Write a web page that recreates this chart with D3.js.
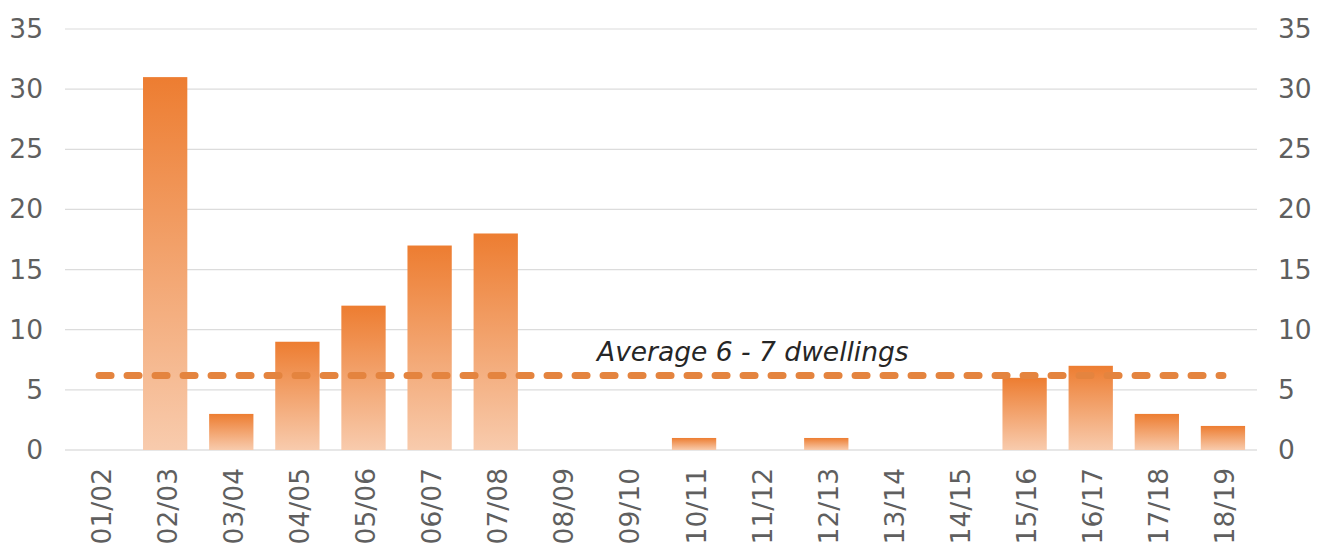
<!DOCTYPE html>
<html>
<head>
<meta charset="utf-8">
<script src="https://cdn.jsdelivr.net/npm/d3@7"></script>
<style>
  body { margin: 0; background: #fff; }
  svg { display: block; }
  text { font-family: "DejaVu Sans", Verdana, sans-serif; }
</style>
</head>
<body>
<div id="chart"></div>
<script>
// data
var years = ["01/02","02/03","03/04","04/05","05/06","06/07","07/08","08/09","09/10",
             "10/11","11/12","12/13","13/14","14/15","15/16","16/17","17/18","18/19"];
var dwellings = [0, 31, 3, 9, 12, 17, 18, 0, 0, 1, 0, 1, 0, 0, 6, 7, 3, 2];
var yTicks = [0, 5, 10, 15, 20, 25, 30, 35];
var average = 6.2;
var averageLabel = "Average 6 - 7 dwellings";

function renderChart(){
    var svgWidth = 1329, svgHeight = 547;
    var plotLeft = 65, plotRight = 1257, plotTop = 29, plotBottom = 450;
    var fontSize = "26.5px";

    var svg = d3.select("#chart").append("svg")
        .attr("width", svgWidth)
        .attr("height", svgHeight);

    // gradient for the bars, dark at the top and light at the bottom
    var grad = svg.append("defs").append("linearGradient")
        .attr("id", "barGrad")
        .attr("x1", 0).attr("y1", 0).attr("x2", 0).attr("y2", 1);
    grad.append("stop").attr("offset", "0%").attr("stop-color", "#ED7D31");
    grad.append("stop").attr("offset", "100%").attr("stop-color", "#F8CBAD");

    var x = d3.scaleBand()
        .domain(years)
        .range([plotLeft + 1, plotRight - 1])
        .paddingInner(0.33)
        .paddingOuter(0.165);

    var y = d3.scaleLinear()
        .domain([0, 35])
        .range([plotBottom, plotTop]);

    // gridlines
    svg.append("g")
        .selectAll("line")
        .data(yTicks)
        .enter()
        .append("line")
        .attr("x1", plotLeft)
        .attr("x2", plotRight)
        .attr("y1", d => y(d))
        .attr("y2", d => y(d))
        .attr("stroke", d => d == 0 ? "#D0D0D0" : "#DCDCDC")
        .attr("stroke-width", 1.2);

    // left and right axes (labels only)
    var leftAxis = d3.axisLeft(y).tickValues(yTicks).tickSize(0).tickPadding(0);
    var rightAxis = d3.axisRight(y).tickValues(yTicks).tickSize(0).tickPadding(0);

    var gl = svg.append("g").attr("transform", "translate(43,0)").call(leftAxis);
    var gr = svg.append("g").attr("transform", "translate(1278,0)").call(rightAxis);
    [gl, gr].forEach(function(g){
        g.select(".domain").remove();
        g.selectAll("text")
            .attr("fill", "#5f5f5f")
            .style("font-size", fontSize)
            .style("font-family", "'DejaVu Sans', Verdana, sans-serif");
    });

    // bars
    svg.append("g")
        .selectAll("rect")
        .data(dwellings)
        .enter()
        .append("rect")
        .attr("x", (d, i) => x(years[i]))
        .attr("width", x.bandwidth())
        .attr("y", d => y(d))
        .attr("height", d => plotBottom - y(d))
        .attr("fill", "url(#barGrad)");

    // x labels, rotated
    svg.append("g")
        .selectAll("text")
        .data(years)
        .enter()
        .append("text")
        .attr("transform", d => `translate(${x(d) + x.bandwidth()/2 + 2}, 468) rotate(-90)`)
        .attr("text-anchor", "end")
        .attr("dy", "0.36em")
        .attr("fill", "#5f5f5f")
        .style("font-size", fontSize)
        .text(d => d);

    // average dashed line
    var x0 = x(years[0]) + x.bandwidth()/2;
    var x1 = x(years[years.length-1]) + x.bandwidth()/2;
    svg.append("line")
        .attr("x1", x0)
        .attr("x2", x1)
        .attr("y1", y(average))
        .attr("y2", y(average))
        .attr("stroke", "#E4843F")
        .attr("stroke-width", 7)
        .attr("stroke-linecap", "round")
        .attr("stroke-dasharray", "12 16");

    svg.append("text")
        .attr("x", 597)
        .attr("y", y(average) - 14)
        .attr("fill", "#262626")
        .style("font-size", fontSize)
        .style("font-style", "italic")
        .text(averageLabel);
}
renderChart();
</script>
</body>
</html>
